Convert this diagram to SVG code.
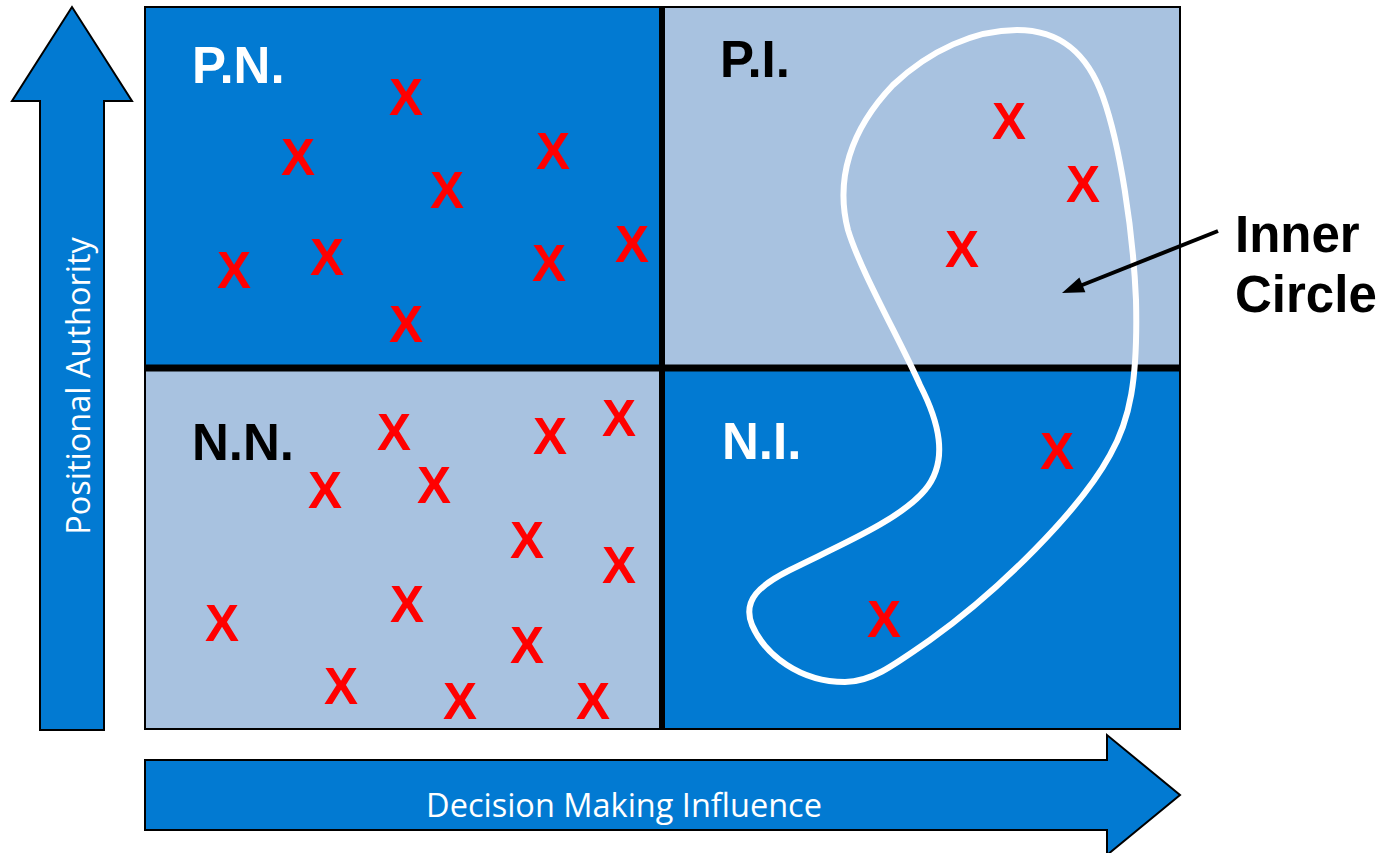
<svg xmlns="http://www.w3.org/2000/svg" width="1387" height="853" viewBox="0 0 1387 853">
<defs>
<style>
.dark{fill:#027AD2;}
.light{fill:#A8C2E0;}
.q{stroke:#000;stroke-width:2;}
.lbl{font-family:"Liberation Sans",Arial,sans-serif;font-weight:bold;font-size:51px;}
.x{font-family:"Liberation Sans",Arial,sans-serif;font-weight:bold;font-size:51px;fill:#FF0000;text-anchor:middle;}
.axis{font-family:"Open Sans","Noto Sans",sans-serif;font-size:32.5px;fill:#fff;text-anchor:middle;}
</style>
</defs>
<rect width="1387" height="853" fill="#fff"/>

<g id="axis-y">
<polygon points="72,7 12,101 40,101 40,730 104,730 104,101 132,101" fill="#027AD2" stroke="#000" stroke-width="2"/>
<text class="axis" transform="translate(90,386) rotate(-90)">Positional Authority</text>
</g>

<g id="axis-x">
<polygon points="145,760 1107,760 1107,735 1180,795 1107,855 1107,830 145,830" fill="#027AD2" stroke="#000" stroke-width="2"/>
<text class="axis" x="624" y="817">Decision Making Influence</text>
</g>

<g id="quad-pn">
<rect x="145" y="7" width="517" height="361" class="dark q"/>
<text class="lbl" x="192" y="83" fill="#fff">P.N.</text>
<text class="x" x="406" y="115">X</text>
<text class="x" x="298" y="175">X</text>
<text class="x" x="553" y="169">X</text>
<text class="x" x="447" y="208">X</text>
<text class="x" x="234" y="288">X</text>
<text class="x" x="327" y="275">X</text>
<text class="x" x="549" y="281">X</text>
<text class="x" x="632" y="262">X</text>
<text class="x" x="406" y="342">X</text>
</g>

<g id="quad-pi">
<rect x="662" y="7" width="518" height="361" class="light q"/>
<text class="lbl" x="720" y="77" fill="#000">P.I.</text>
<text class="x" x="1009" y="139">X</text>
<text class="x" x="1083" y="202">X</text>
<text class="x" x="962" y="267">X</text>
</g>

<g id="quad-nn">
<rect x="145" y="368" width="517" height="361" class="light q"/>
<text class="lbl" x="192" y="460" fill="#000">N.N.</text>
<text class="x" x="394" y="450">X</text>
<text class="x" x="550" y="454">X</text>
<text class="x" x="619" y="436">X</text>
<text class="x" x="325" y="508">X</text>
<text class="x" x="434" y="503">X</text>
<text class="x" x="527" y="558">X</text>
<text class="x" x="619" y="583">X</text>
<text class="x" x="222" y="641">X</text>
<text class="x" x="407" y="622">X</text>
<text class="x" x="527" y="663">X</text>
<text class="x" x="341" y="704">X</text>
<text class="x" x="460" y="719">X</text>
<text class="x" x="593" y="719">X</text>
</g>

<g id="quad-ni">
<rect x="662" y="368" width="518" height="361" class="dark q"/>
<text class="lbl" x="722" y="459" fill="#fff">N.I.</text>
<text class="x" x="1057" y="469">X</text>
<text class="x" x="884" y="637">X</text>
</g>

<g id="dividers">
<line x1="662" y1="7" x2="662" y2="729" stroke="#000" stroke-width="6"/>
<line x1="145" y1="368" x2="1180" y2="368" stroke="#000" stroke-width="7"/>
</g>

<g id="inner-circle">
<path d="M1017,30 C1062,30 1088,55 1103,97 C1120,145 1133,230 1136,300 C1138,380 1130,420 1110,455 C1080,510 1000,590 930,640 C890,668 870,682 845,682 C800,682 765,655 752,625 C742,600 760,585 790,570 C840,545 900,520 925,490 C950,460 938,420 920,385 C900,340 860,270 848,230 C835,180 850,130 893,85 C930,50 975,30 1017,30 Z" fill="none" stroke="#fff" stroke-width="6"/>
</g>

<g id="inner-circle-label">
<text class="lbl" x="1235" y="252" fill="#000" font-size="52">Inner</text>
<text class="lbl" x="1235" y="312" fill="#000" font-size="53">Circle</text>
</g>

<g id="connectors">
<line x1="1218" y1="231" x2="1081" y2="285.5" stroke="#000" stroke-width="4"/>
<polygon points="1062,293 1079.4,277.5 1085.4,292.3" fill="#000"/>
</g>
</svg>
